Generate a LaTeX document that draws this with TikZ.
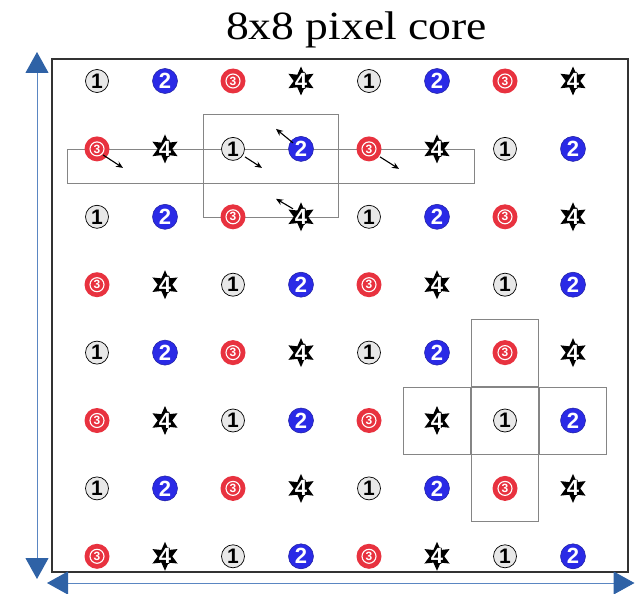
\documentclass[tikz,border=0pt]{standalone}
\usepackage{fontspec}
\usepackage{graphicx}
\setmainfont{Liberation Serif}
\newfontfamily\digitfont{Liberation Sans}
\usetikzlibrary{arrows.meta,shapes.geometric,backgrounds}
\definecolor{onegray}{HTML}{E8E8E8}
\definecolor{twoblue}{HTML}{2A2AE6}
\definecolor{threered}{HTML}{E8323F}
\definecolor{frameline}{HTML}{333333}
\definecolor{boxline}{HTML}{858585}
\definecolor{axisline}{HTML}{5A86C2}
\definecolor{axishead}{HTML}{2F62A6}
\begin{document}
\begin{tikzpicture}[x=1pt,y=-1pt,
  sym1/.style={circle, draw=black, line width=0.7pt, fill=onegray, minimum size=23pt,
    inner sep=0pt, text=black, font=\digitfont\bfseries\fontsize{21}{21}\selectfont},
  sym2/.style={circle, draw=twoblue!70!black, line width=0.5pt, fill=twoblue, minimum size=25pt,
    inner sep=0pt, text=white, font=\digitfont\bfseries\fontsize{22}{22}\selectfont},
  sym3/.style={circle, fill=threered, minimum size=25pt, inner sep=0pt, text=white,
    font=\digitfont\bfseries\fontsize{12}{12}\selectfont,
    path picture={\draw[white, line width=1.1pt] (path picture bounding box.center) circle[radius=7pt];}},
  starbody/.style={star, star points=6, star point ratio=2, minimum size=29pt, inner sep=0pt, fill=black},
  fourtxt/.style={inner sep=0pt, font=\digitfont\bfseries\fontsize{22}{22}\selectfont},
  cellbox/.style={draw=boxline, line width=0.9pt},
  vec/.style={-{Stealth[length=7pt,width=6pt]}, line width=1.1pt, black},
  axis/.style={draw=axisline, line width=1pt,
    {Triangle[length=21pt,width=23pt,color=axishead]}-{Triangle[length=21pt,width=23pt,color=axishead]}},
]
\useasboundingbox (0,0) rectangle (635,594);

% title
\node[anchor=base, font=\fontsize{40}{48}\selectfont] (title) at (356.5,40)
  {\scalebox{1.14}[1]{8x8 pixel core}};

% core outline
\draw[draw=frameline, line width=1.2pt] (52,59) rectangle (628,572);

% 8x8 grid of pixel types 1..4
\foreach \r in {0,...,7}{
  \foreach \c in {0,...,7}{
    \pgfmathtruncatemacro\t{mod(\c+2*mod(\r,2),4)+1}
    \ifnum\t=4
      % black star, digit with a black rim
      \node[starbody] (p\r\c) at ({97+68*\c},{81+67.9*\r}) {};
      \foreach \a in {0,45,...,315}
        \node[fourtxt, text=black] at ([shift={(\a:0.8pt)}]p\r\c.center) {4};
      \node[fourtxt, text=white] at (p\r\c.center) {4};
    \else
      \node[sym\t] (p\r\c) at ({97+68*\c},{81+67.9*\r}) {\t};
    \fi
  }
}

% neighbourhood boxes
\begin{scope}[on background layer]
  \draw[cellbox] (67,149) rectangle (474,183);
  \draw[cellbox] (203,114) rectangle (338,217);
  \foreach \n in {p46,p55,p56,p57,p66}
    \draw[cellbox] ([shift={(-33.5,-33.5)}]\n.center) rectangle ([shift={(33.5,33.5)}]\n.center);
\end{scope}

% displacement vectors
\draw[vec] ([shift={(6,6)}]p10.center) -- ([shift={(26,19)}]p10.center);
\draw[vec] ([shift={(12,8)}]p12.center) -- ([shift={(29,19)}]p12.center);
\draw[vec] ([shift={(11,8)}]p14.center) -- ([shift={(30,20)}]p14.center);
\draw[vec] ([shift={(-8,-6)}]p13.center) -- ([shift={(-25,-20)}]p13.center);
\draw[vec] ([shift={(-8,-8)}]p23.center) -- ([shift={(-25,-18)}]p23.center);

% axes
\coordinate (vtop) at (37,52);
\coordinate (vbot) at (37,579);
\draw[axis] (vtop) -- (vbot);
\coordinate (hleft) at (47,583);
\coordinate (hright) at (634.5,583);
\draw[axis] (hleft) -- (hright);
\end{tikzpicture}
\end{document}
